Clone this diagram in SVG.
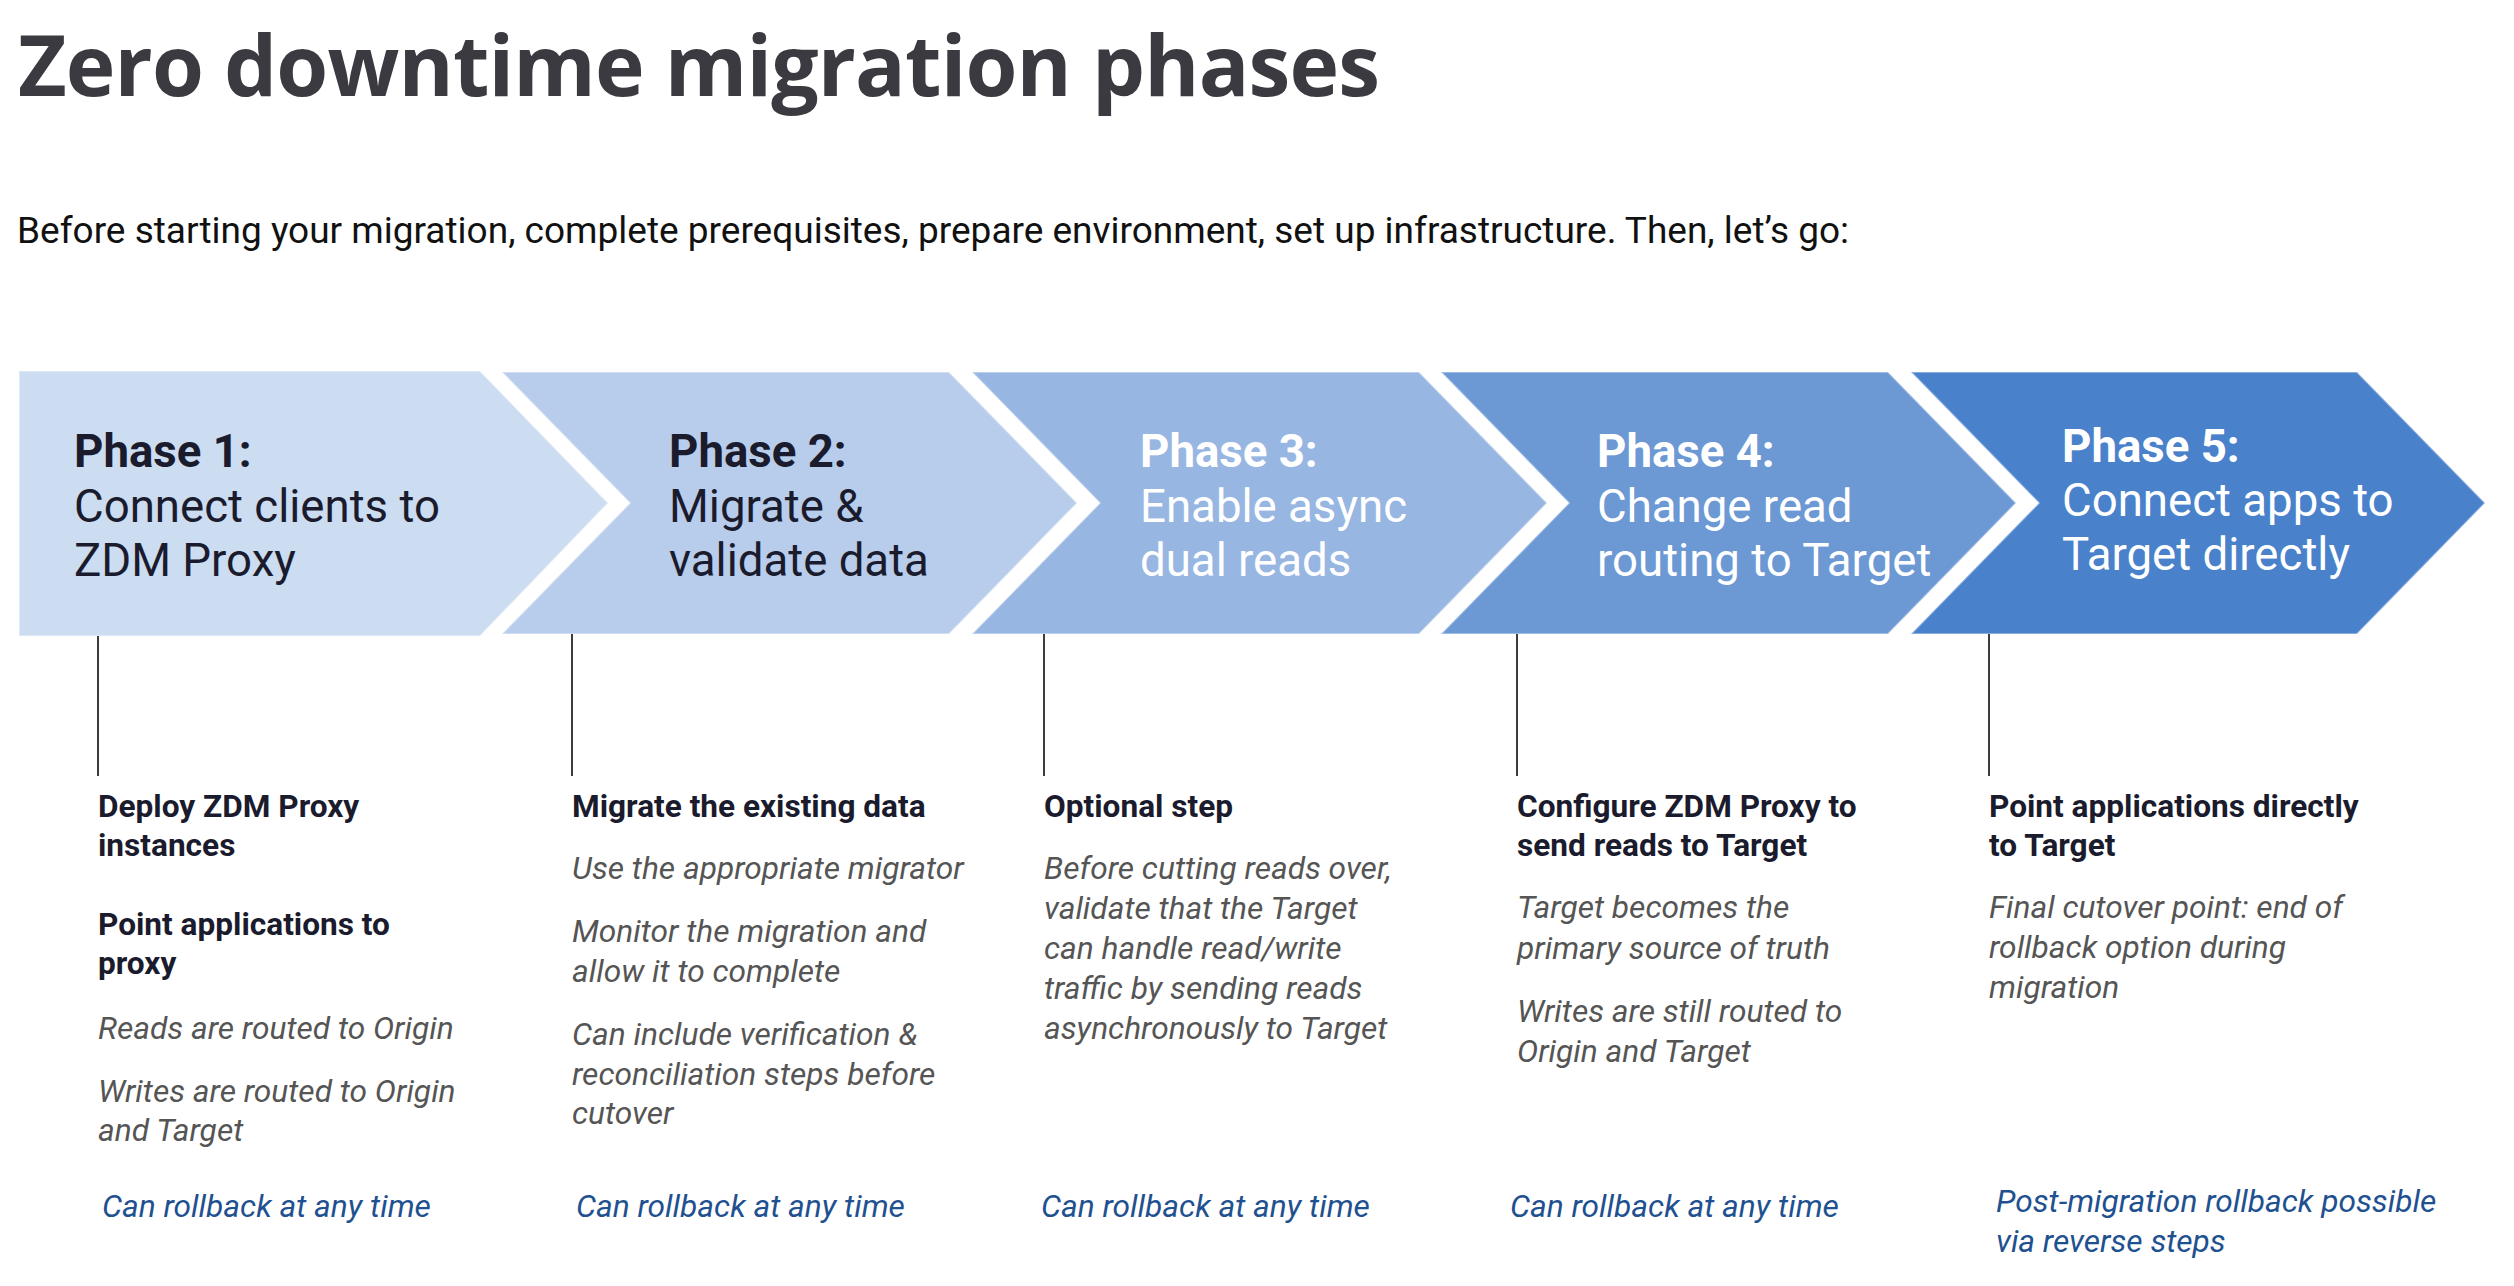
<svg xmlns="http://www.w3.org/2000/svg" width="2514" height="1286" viewBox="0 0 2514 1286">
<style>
.title{font-family:"Open Sans","Noto Sans",sans-serif;font-weight:700;font-size:84px;fill:#3a3a40}
.sub{font-family:Roboto,"Liberation Sans",sans-serif;font-size:37px;fill:#111}
.ph{font-family:Roboto,"Liberation Sans",sans-serif;font-size:45.6px}
.ph .b{font-weight:700}
.dark{fill:#1b1b2e}
.light{fill:#ffffff}
.chev{stroke:#ffffff;stroke-opacity:0.35;stroke-width:2}
.hd{font-family:Roboto,"Liberation Sans",sans-serif;font-weight:700;font-size:31.6px;fill:#1b1b2e}
.it{font-family:Roboto,"Liberation Sans",sans-serif;font-style:italic;font-size:31.7px;fill:#555555}
.rb{font-family:Roboto,"Liberation Sans",sans-serif;font-style:italic;font-size:31.7px;fill:#1f5190}
.conn{stroke:#3c3c3c;stroke-width:2;fill:none}
</style>
<rect width="2514" height="1286" fill="#ffffff"/>
<g id="header">
<text class="title" x="18" y="96" textLength="1362" lengthAdjust="spacing">Zero downtime migration phases</text>
<text class="sub" x="17" y="243">Before starting your migration, complete prerequisites, prepare environment, set up infrastructure. Then, let’s go:</text>
</g>
<g id="phase1">
<polygon class="chev" points="19,371 480,371 608,503 480,636 19,636" fill="#ccdcf1"/>
<text class="ph dark" x="74"><tspan class="b" x="74" y="467">Phase 1:</tspan><tspan x="74" y="522">Connect clients to</tspan><tspan x="74" y="576">ZDM Proxy</tspan></text>
</g>
<g id="phase2">
<polygon class="chev" points="502,372 949,372 1077,503 949,634 502,634 630,503" fill="#b8cdeb"/>
<text class="ph dark" x="669"><tspan class="b" x="669" y="467">Phase 2:</tspan><tspan x="669" y="522">Migrate &amp;</tspan><tspan x="669" y="576">validate data</tspan></text>
</g>
<g id="phase3">
<polygon class="chev" points="972,372 1419,372 1547,503 1419,634 972,634 1100,503" fill="#98b6e2"/>
<text class="ph light" x="1140"><tspan class="b" x="1140" y="467">Phase 3:</tspan><tspan x="1140" y="522">Enable async</tspan><tspan x="1140" y="576">dual reads</tspan></text>
</g>
<g id="phase4">
<polygon class="chev" points="1441,372 1888,372 2016,503 1888,634 1441,634 1569,503" fill="#6c98d4"/>
<text class="ph light" x="1597"><tspan class="b" x="1597" y="467">Phase 4:</tspan><tspan x="1597" y="522">Change read</tspan><tspan x="1597" y="576">routing to Target</tspan></text>
</g>
<g id="phase5">
<polygon class="chev" points="1911,372 2357,372 2485,503 2357,634 1911,634 2039,503" fill="#4a81cb"/>
<text class="ph light" x="2062"><tspan class="b" x="2062" y="462">Phase 5:</tspan><tspan x="2062" y="516">Connect apps to</tspan><tspan x="2062" y="570">Target directly</tspan></text>
</g>
<g id="connectors">
<line class="conn" x1="98" y1="636" x2="98" y2="776"/>
<line class="conn" x1="572" y1="634" x2="572" y2="776"/>
<line class="conn" x1="1044" y1="634" x2="1044" y2="776"/>
<line class="conn" x1="1517" y1="634" x2="1517" y2="776"/>
<line class="conn" x1="1989" y1="634" x2="1989" y2="776"/>
</g>
<g id="details1">
<text class="hd"><tspan x="98" y="817">Deploy ZDM Proxy</tspan><tspan x="98" y="856">instances</tspan><tspan x="98" y="935">Point applications to</tspan><tspan x="98" y="974">proxy</tspan></text>
<text class="it"><tspan x="98" y="1039">Reads are routed to Origin</tspan><tspan x="98" y="1102">Writes are routed to Origin</tspan><tspan x="98" y="1141">and Target</tspan></text>
<text class="rb" x="102" y="1217">Can rollback at any time</text>
</g>
<g id="details2">
<text class="hd" x="572" y="817">Migrate the existing data</text>
<text class="it"><tspan x="572" y="879">Use the appropriate migrator</tspan><tspan x="572" y="942">Monitor the migration and</tspan><tspan x="572" y="982">allow it to complete</tspan><tspan x="572" y="1045">Can include verification &amp;</tspan><tspan x="572" y="1085">reconciliation steps before</tspan><tspan x="572" y="1124">cutover</tspan></text>
<text class="rb" x="576" y="1217">Can rollback at any time</text>
</g>
<g id="details3">
<text class="hd" x="1044" y="817">Optional step</text>
<text class="it"><tspan x="1044" y="879">Before cutting reads over,</tspan><tspan x="1044" y="919">validate that the Target</tspan><tspan x="1044" y="959">can handle read/write</tspan><tspan x="1044" y="999">traffic by sending reads</tspan><tspan x="1044" y="1039">asynchronously to Target</tspan></text>
<text class="rb" x="1041" y="1217">Can rollback at any time</text>
</g>
<g id="details4">
<text class="hd"><tspan x="1517" y="817">Configure ZDM Proxy to</tspan><tspan x="1517" y="856">send reads to Target</tspan></text>
<text class="it"><tspan x="1517" y="918">Target becomes the</tspan><tspan x="1517" y="959">primary source of truth</tspan><tspan x="1517" y="1022">Writes are still routed to</tspan><tspan x="1517" y="1062">Origin and Target</tspan></text>
<text class="rb" x="1510" y="1217">Can rollback at any time</text>
</g>
<g id="details5">
<text class="hd"><tspan x="1989" y="817">Point applications directly</tspan><tspan x="1989" y="856">to Target</tspan></text>
<text class="it"><tspan x="1989" y="918">Final cutover point: end of</tspan><tspan x="1989" y="958">rollback option during</tspan><tspan x="1989" y="998">migration</tspan></text>
<text class="rb"><tspan x="1996" y="1212">Post-migration rollback possible</tspan><tspan x="1996" y="1252">via reverse steps</tspan></text>
</g>
</svg>
